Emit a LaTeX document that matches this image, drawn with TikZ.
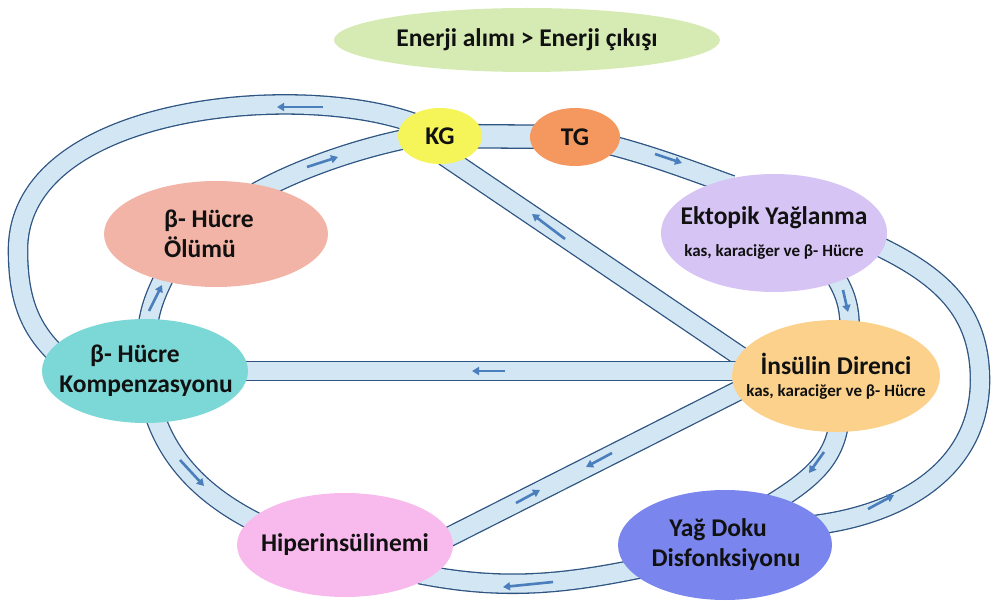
\documentclass[tikz,border=0pt]{standalone}
\usepackage{fontspec}
\setmainfont{Carlito}
\usetikzlibrary{shapes.geometric,arrows.meta}
\pgfdeclarelayer{background}
\pgfsetlayers{background,main}
\definecolor{greenE}{HTML}{D6EBB3}
\definecolor{kgc}{HTML}{F5F55A}
\definecolor{tgc}{HTML}{F5985F}
\definecolor{ektc}{HTML}{D6C4F4}
\definecolor{insc}{HTML}{FBD18C}
\definecolor{olumc}{HTML}{F2B4A6}
\definecolor{kompc}{HTML}{7CD8D6}
\definecolor{hiperc}{HTML}{F8BAEC}
\definecolor{yagc}{HTML}{7A86EE}
\definecolor{tubefill}{HTML}{D3E6F3}
\definecolor{tubeedge}{HTML}{2E5482}
\definecolor{flowc}{HTML}{4A7EBC}
\definecolor{txt}{HTML}{111111}
\newcommand{\nbx}[2][0pt]{\makebox[0pt]{\hspace*{#1}\hspace*{#1}#2}}
\newcommand{\smalltxt}{\fontsize{17}{20}\selectfont}
\begin{document}
\begin{tikzpicture}[x=1pt,y=-1pt,
  blob/.style={ellipse, inner sep=0pt, align=center, text=txt,
    font=\bfseries\fontsize{25.5}{30}\selectfont},
  tube/.style={draw=tubeedge, line width=1.3pt, double=tubefill,
    double distance=18pt, shorten <=-12pt, shorten >=-12pt},
  flow/.style={draw=flowc, line width=2.6pt,
    -{Triangle[length=7pt,width=8pt]}}]
\useasboundingbox (0,0) rectangle (993,601);

% nodes
\node[blob, fill=greenE, minimum width=386pt, minimum height=64pt] (top) at (527,40) {\nbx{Enerji alımı > Enerji çıkışı}};
\node[blob, fill=kgc, minimum width=84pt, minimum height=56pt] (KG) at (440,136) {\nbx{KG}};
\node[blob, fill=tgc, minimum width=90pt, minimum height=58pt] (TG) at (575,137) {\nbx{TG}};
\node[blob, fill=ektc, minimum width=226pt, minimum height=118pt] (ekt) at (774,233)
  {\nbx{Ektopik Yağlanma}\\[2pt]\nbx{\smalltxt kas, karaciğer ve β- Hücre}};
\node[blob, fill=insc, minimum width=208pt, minimum height=112pt] (ins) at (836,376)
  {\nbx{İnsülin Direnci}\\[-8pt]\nbx{\smalltxt kas, karaciğer ve β- Hücre}};
\node[blob, fill=olumc, minimum width=224pt, minimum height=106pt] (olum) at (216,234)
  {\nbx[-7pt]{β- Hücre}\\\nbx[-16pt]{Ölümü}};
\node[blob, fill=kompc, minimum width=206pt, minimum height=104pt] (komp) at (145,371)
  {\nbx[-10pt]{β- Hücre}\\\nbx[1pt]{Kompenzasyonu}};
\node[blob, fill=hiperc, minimum width=216pt, minimum height=104pt] (hiper) at (345,545)
  {\nbx{Hiperinsülinemi}};
\node[blob, fill=yagc, minimum width=214pt, minimum height=110pt] (yag) at (725,545)
  {\nbx[-7pt]{Yağ Doku}\\\nbx[1pt]{Disfonksiyonu}};

\begin{pgfonlayer}{background}
% tubes
\draw[tube] (KG.155) .. controls (300,80) and (18,105) .. (18,250)
  .. controls (18,300) and (30,330) .. (komp.167);
\draw[tube] (olum.43) .. controls (300,168) and (360,148) .. (KG.186);
\draw[tube] (komp.86) .. controls (150,308) and (155,295) .. (olum.221);
\draw[tube, double distance=22pt] (KG) -- (TG);
\draw[tube] (TG.-13) .. controls (650,155) and (690,170) .. (ekt.136);
\draw[tube] (KG.-62) -- (ins.168);
\draw[tube] (ekt.-37) .. controls (845,292) and (850,305) .. (ins.76);
\draw[tube] (yag.12) .. controls (900,515) and (980,470) .. (980,380)
  .. controls (980,310) and (940,275) .. (ekt.-8);
\draw[tube] (ins.-88) .. controls (835,460) and (810,480) .. (yag.40);
\draw[tube] (komp) -- (komp -| ins);
\draw[tube] (hiper.5) -- (ins.189);
\draw[tube] (yag.195) .. controls (560,585) and (500,590) .. (hiper.-20);
\draw[tube] (komp.-77) .. controls (170,465) and (210,500) .. (hiper.165);
% flow arrows
\draw[flow] (323,107) -- (277,107);
\draw[flow] (307,167) -- (338,157);
\draw[flow] (149,311) -- (162,285);
\draw[flow] (655,154) -- (682,163);
\draw[flow] (565,239) -- (532,214);
\draw[flow] (843,290) -- (848,312);
\draw[flow] (505,371) -- (472,371);
\draw[flow] (612,453) -- (586,467);
\draw[flow] (516,503) -- (540,490);
\draw[flow] (553,582) -- (503,587);
\draw[flow] (180,460) -- (204,486);
\draw[flow] (824,452) -- (809,473);
\draw[flow] (868,509) -- (894,495);
\end{pgfonlayer}
\end{tikzpicture}
\end{document}
